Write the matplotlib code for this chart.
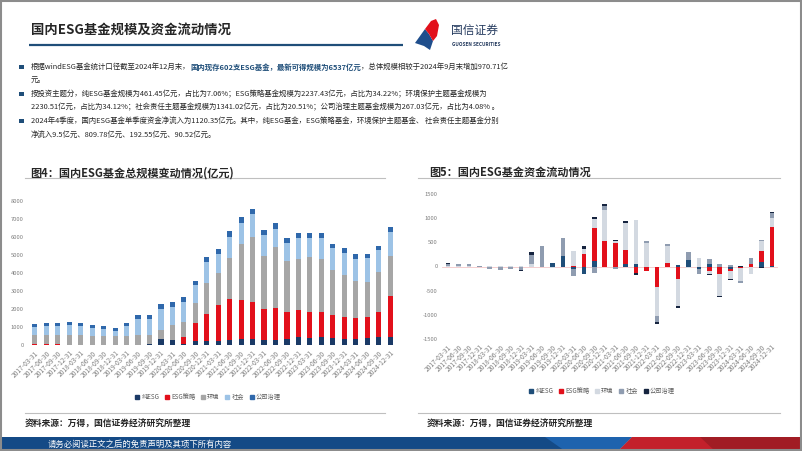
import numpy as np
import matplotlib
matplotlib.use('Agg')
import matplotlib.pyplot as plt
from matplotlib.patches import Rectangle, Polygon, Patch

plt.rcParams['font.family'] = ['Noto Sans CJK SC', 'DejaVu Sans']
plt.rcParams['axes.unicode_minus'] = False

# quarter-end dates, 2017Q1 .. 2024Q4
quarters = [f'{y}-{q}' for y in range(2017, 2025) for q in ('03-31', '06-30', '09-30', '12-31')]
series_names = ['纯ESG', 'ESG策略', '环境', '社会', '公司治理']

# fig 4: total size by theme (亿元)
size_pure = [10, 10, 10, 0, 0, 0, 0, 0, 0, 0, 30, 320, 280, 80, 230, 230,
             210, 300, 350, 360, 300, 300, 330, 460, 380, 440, 390, 350, 350, 380, 420, 461.45]
size_strategy = [30, 40, 40, 0, 0, 0, 0, 0, 0, 0, 20, 0, 0, 380, 1010, 1490,
                 2010, 2240, 2130, 2050, 1680, 1760, 1500, 1480, 1470, 1370, 1280, 1220, 1130, 1190, 1430, 2237.43]
size_env = [520, 520, 530, 560, 540, 520, 510, 480, 520, 540, 480, 510, 830, 840, 1070, 1740,
            1760, 2290, 3130, 3570, 2960, 3400, 2860, 2840, 3060, 2950, 2480, 2320, 2080, 1910, 2220, 2230.51]
size_social = [450, 460, 500, 550, 500, 420, 400, 320, 550, 930, 930, 1190, 1020, 1110, 1000, 1150,
               1080, 1150, 1190, 1280, 1150, 1000, 980, 1180, 1050, 1180, 1240, 1240, 1240, 1330, 1190, 1341.02]
size_gov = [160, 170, 170, 170, 160, 150, 150, 130, 170, 180, 180, 240, 260, 280, 260, 260,
            290, 330, 330, 310, 280, 300, 270, 240, 260, 260, 220, 240, 260, 250, 260, 267.03]

# fig 5: quarterly net flows by theme (亿元)
flow_pure = [0, 0, 0, 0, 0, 0, 0, 0, 0, 0, 70, 215, -55, -150, 115, 0,
             0, 50, 60, 0, 0, 0, 30, 130, -60, 50, 0, -55, 0, 0, 95, 9.5]
flow_strategy = [0, 0, 0, 0, 0, 0, 0, 0, 0, 0, 0, 0, 20, 255, 690, 535,
                 485, 300, -140, -100, -425, 80, -255, 0, 0, -100, -155, -45, -40, 45, 225, 809.78]
flow_env = [20, 20, 20, 0, 15, 15, 15, 15, 50, 0, -40, 0, 300, 110, 170, 625,
            40, 550, 910, 480, -590, 340, -565, -30, 170, -55, -455, -155, -265, -155, 200, 192.55]
flow_social = [30, 30, 25, 15, -60, -75, -50, -70, 195, 425, 0, 375, -135, 0, -130, 85,
               -55, 0, 0, 40, -125, 45, 0, 170, -95, 100, 45, 40, -35, 130, 35, 90.52]
flow_gov = [15, 10, 15, 5, 0, 0, 0, -30, 55, 0, 10, 0, 0, 55, 45, 40,
            25, 40, -30, 0, -40, 0, -45, 0, 0, -25, -20, -20, 15, 0, -40, 18.0]

size_colors = ['#1B3A66', '#E2101B', '#A6A6A6', '#9DC3E6', '#2F68AB']
flow_colors = ['#1F4E79', '#E2101B', '#D3D9E1', '#8F9CB0', '#16243F']

W, H = 802, 451
NAVY = '#1F4E79'
TXT = '#262626'

fig = plt.figure(figsize=(W / 100, H / 100), dpi=100)
bg = fig.add_axes([0, 0, 1, 1])
bg.set_xlim(0, W)
bg.set_ylim(H, 0)
bg.axis('off')


def add_ax(x0, y0, x1, y1):
    return fig.add_axes([x0 / W, 1 - y1 / H, (x1 - x0) / W, (y1 - y0) / H])


def stack_bars(ax, vals_list, colors, width):
    x = np.arange(len(quarters))
    pos = np.zeros(len(x))
    neg = np.zeros(len(x))
    for vals, c in zip(vals_list, colors):
        v = np.asarray(vals, float)
        bottom = np.where(v >= 0, pos, neg)
        ax.bar(x, v, width, bottom=bottom, color=c, linewidth=0, zorder=2)
        pos += np.clip(v, 0, None)
        neg += np.clip(v, None, 0)


def style_ax(ax, ticks):
    ax.set_facecolor('none')
    for s in ax.spines.values():
        s.set_visible(False)
    ax.set_xlim(-0.6, len(quarters) - 0.4)
    ax.set_yticks(ticks)
    ax.set_yticklabels([str(t) for t in ticks])
    ax.set_xticks(np.arange(len(quarters)))
    ax.set_xticklabels(quarters, rotation=45, ha='right', rotation_mode='anchor')
    ax.tick_params(axis='both', length=0, colors='#7F7F7F')
    ax.tick_params(axis='y', labelsize=4.2, pad=3)
    ax.tick_params(axis='x', labelsize=4.8, pad=3)


# slide frame, header
bg.add_patch(Rectangle((0.75, 0.75), W - 1.5, H - 1.5, fill=False, ec='#8C8C8C', lw=1.5, zorder=5))
bg.text(31, 30, '国内ESG基金规模及资金流动情况', fontsize=9.6, weight='bold', color=TXT, va='center')
bg.plot([29, 403], [44.5, 44.5], color=NAVY, lw=1.6, solid_capstyle='butt')

# logo
bg.add_patch(Polygon([(415, 43), (425, 29), (429, 34), (433, 41), (430, 50), (424, 46)], color='#1F4E8C', lw=0))
bg.add_patch(Polygon([(425, 29), (431, 21), (436, 19), (439, 25), (437, 36), (433, 41), (429, 34)], color='#E2101B', lw=0))
bg.text(451, 31, '国信证券', fontsize=8.5, color='#243A5E', va='center')
bg.text(452, 45, 'GUOSEN SECURITIES', fontsize=3.4, weight='bold', color='#243A5E', va='center')

# bullet text
body = 5.35
lines = [
    (67, True, [('根据windESG基金统计口径截至2024年12月末，', TXT, 'normal'),
                ('国内现存602支ESG基金，最新可得规模为6537亿元', NAVY, 'bold'),
                ('，总体规模相较于2024年9月末增加970.71亿', TXT, 'normal')]),
    (80, False, [('元。', TXT, 'normal')]),
    (94, True, [('按投资主题分，纯ESG基金规模为461.45亿元，占比为7.06%；ESG策略基金规模为2237.43亿元，'
                 '占比为34.22%；环境保护主题基金规模为', TXT, 'normal')]),
    (107, False, [('2230.51亿元，占比为34.12%；社会责任主题基金规模为1341.02亿元，占比为20.51%；'
                   '公司治理主题基金规模为267.03亿元，占比为4.08% 。', TXT, 'normal')]),
    (121, True, [('2024年4季度，国内ESG基金单季度资金净流入为1120.35亿元。其中，纯ESG基金，ESG策略基金，'
                  '环境保护主题基金、 社会责任主题基金分别', TXT, 'normal')]),
    (135, False, [('净流入9.5亿元、809.78亿元、192.55亿元、90.52亿元。', TXT, 'normal')]),
]
for y, bullet, segs in lines:
    if bullet:
        bg.add_patch(Rectangle((19, y - 2.5), 4.5, 4.5, color=NAVY, lw=0))
    prev = None
    for s, c, w in segs:
        if prev is None:
            prev = bg.text(31, y, s, fontsize=body, color=c, weight=w, va='center')
        else:
            prev = bg.annotate(s, xy=(1, 0.5), xycoords=prev, fontsize=body, color=c,
                               weight=w, va='center', ha='left')

# panel titles, rules, sources
bg.text(30, 173, '图4：国内ESG基金总规模变动情况(亿元)', fontsize=8, weight='bold', color=TXT, va='center')
bg.text(429, 172, '图5：国内ESG基金资金流动情况', fontsize=8, weight='bold', color=TXT, va='center')
for x0, x1 in [(25, 385), (418, 780)]:
    bg.plot([x0, x1], [178, 178], color='#BFBFBF', lw=0.8)
    bg.plot([x0, x1], [413, 413], color='#BFBFBF', lw=0.8)
bg.text(25, 424, '资料来源：万得，国信证券经济研究所整理', fontsize=6.3, weight='bold', color=TXT, va='center')
bg.text(427, 424, '资料来源：万得，国信证券经济研究所整理', fontsize=6.3, weight='bold', color=TXT, va='center')

# footer band
bg.add_patch(Polygon([(0, 437), (632, 437), (618, 451), (0, 451)], color='#144A86', lw=0))
bg.add_patch(Polygon([(545, 437), (632, 437), (618, 451), (565, 451)], color='#1E63AE', lw=0))
bg.add_patch(Polygon([(632, 437), (802, 437), (802, 451), (618, 451)], color='#C3202B', lw=0))
bg.add_patch(Polygon([(700, 437), (802, 437), (802, 451), (715, 451)], color='#A11C24', lw=0))
bg.text(48, 444, '请务必阅读正文之后的免责声明及其项下所有内容', fontsize=6, color='white', va='center')

# fig 4
ax1 = add_ax(28, 201, 397, 345)
stack_bars(ax1, [size_pure, size_strategy, size_env, size_social, size_gov], size_colors, 0.45)
ax1.set_ylim(0, 8000)
style_ax(ax1, list(range(0, 8001, 1000)))

# fig 5
ax2 = add_ax(441.7, 194, 778.3, 339)
ax2.axhline(0, color='#F2C6C8', lw=0.6, zorder=1)
stack_bars(ax2, [flow_pure, flow_strategy, flow_env, flow_social, flow_gov], flow_colors, 0.45)
ax2.set_ylim(-1500, 1500)
style_ax(ax2, list(range(-1500, 1501, 500)))

for ax, colors, (lx, ly) in [(ax1, size_colors, (208, 397)), (ax2, flow_colors, (602, 391))]:
    handles = [Patch(color=c) for c in colors]
    ax.legend(handles, series_names, loc='center', bbox_to_anchor=(lx / W, 1 - ly / H),
              bbox_transform=fig.transFigure, ncol=5, frameon=False, fontsize=4.5,
              handlelength=0.6, handleheight=0.6, handletextpad=0.4, columnspacing=0.9,
              labelcolor='#595959')

fig.savefig('out.png', dpi=100)
